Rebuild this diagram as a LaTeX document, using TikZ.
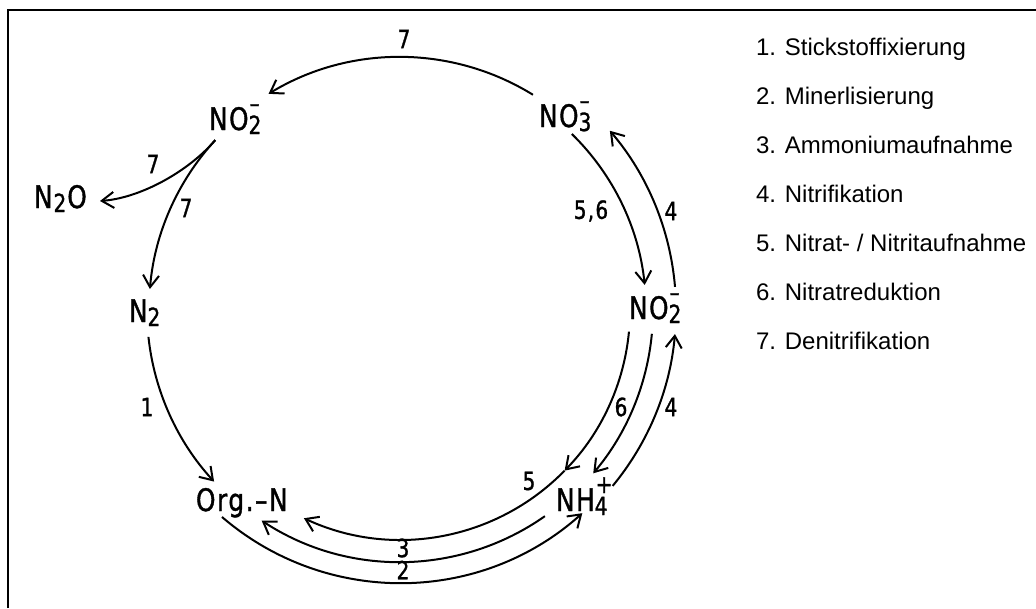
\documentclass[tikz,border=0pt]{standalone}
\usepackage{fontspec}
\setmainfont{Liberation Sans}
\usetikzlibrary{arrows.meta,calc}
\newfontfamily\labfont[FakeStretch=0.8,LetterSpace=5,FakeBold=1.2]{DejaVu Sans}
\newcommand{\chemfs}{\labfont\fontsize{31}{31}\selectfont}
\newcommand{\subfs}{\labfont\fontsize{25}{25}\selectfont}
\newcommand{\numfs}{\labfont\fontsize{25}{25}\selectfont}
\newcommand{\ionlab}[3]{#1{\subfs\makebox[0pt][l]{\raisebox{-4pt}{#2}}\makebox[0pt][l]{\kern1pt\raisebox{18pt}{#3}}\phantom{#2}}}
\begin{document}
\begin{tikzpicture}[x=1pt,y=-1pt,line width=2pt,
  flow/.style={-{Straight Barb[length=12pt,width=16pt]}},
  chem/.style={anchor=base west,inner sep=0pt,font=\chemfs},
  num/.style={inner sep=0pt,font=\numfs},
  legend/.style={anchor=base west,inner sep=0pt,font=\fontsize{24}{24}\selectfont}]
\useasboundingbox (0,0) rectangle (1036,608);
\fill[white] (0,0) rectangle (1036,608);
\draw[line width=2pt] (8.3,608) -- (8.3,10) -- (1036,10);

% species
\node[chem] (no2l) at (208,130) {\ionlab{NO}{2}{–}};
\node[chem] (no3)  at (538,127) {\ionlab{NO}{3}{–}};
\node[chem] (no2r) at (628,319) {\ionlab{NO}{2}{–}};
\node[chem] (n2o)  at (33,208)  {N{\subfs\kern1pt\raisebox{-4pt}{2}\kern1pt}O};
\node[chem] (n2)   at (128,322) {N{\subfs\raisebox{-4pt}{2}}};
\node[chem] (orgn) at (195,511) {Org.–N};
\node[chem] (nh4)  at (555,511) {\ionlab{NH}{4}{+}};

% circle geometry
\coordinate (C) at (400,310);
\coordinate (s7top) at ($(C)+(-58.3:253)$);
\coordinate (s7n2)  at ($(C)+(-137.4:251)$);
\coordinate (s1)    at ($(C)+(173.9:253)$);
\coordinate (s56)   at ($(C)+(-45.7:246)$);
\coordinate (s4a)   at ($(C)+(-4.8:276)$);
\coordinate (s5)    at ($(C)+(5.4:230)$);
\coordinate (p5)    at ($(C)+(44.3:230)$);
\coordinate (s6)    at ($(C)+(5.4:253)$);
\coordinate (s4b)   at ($(C)+(39.6:276)$);
\coordinate (s3)    at ($(C)+(54.9:252)$);
\coordinate (s2)    at ($(C)+(130.7:273)$);
\coordinate (n2otip) at (100,201);

% connectors
\draw[flow] (s7top) arc[start angle=-58.3,end angle=-121.3,radius=253];
\draw[flow] (s7n2) arc[start angle=-137.4,end angle=-175.2,radius=251];
\draw[flow] (s7n2) .. controls (188,172) and (140,198) .. (n2otip);
\draw[flow] (s1) arc[start angle=173.9,end angle=137.3,radius=253];
\draw[flow] (s56) arc[start angle=-45.7,end angle=-5.85,radius=246];
\draw[flow] (s4a) arc[start angle=-4.8,end angle=-40.5,radius=276];
\draw[flow] (s5) arc[start angle=5.4,end angle=44.3,radius=230];
\draw[flow] (p5) arc[start angle=44.3,end angle=115,radius=229];
\draw[flow] (s6) arc[start angle=5.4,end angle=40.2,radius=253];
\draw[flow] (s4b) arc[start angle=39.6,end angle=5.0,radius=276];
\draw[flow] (s3) arc[start angle=54.9,end angle=123.3,radius=252];
\draw[flow] (s2) arc[start angle=130.7,end angle=48.1,radius=273];

% process numbers
\node[num] (l7a) at (404,39) {7};
\node[num] (l7b) at (153,164) {7};
\node[num] (l7c) at (186,208) {7};
\node[num] (l1)  at (147,407) {1};
\node[num] (l56) at (591,211) {5,6};
\node[num] (l4a) at (671,211) {4};
\node[num] (l6)  at (621,407) {6};
\node[num] (l4b) at (671,407) {4};
\node[num] (l5)  at (529,481) {5};
\node[num] (l3)  at (403,548) {3};
\node[num] (l2)  at (403,570) {2};

% legend
\node[legend] (k1) at (755,55)  {1. Stickstoffixierung};
\node[legend] (k2) at (755,104) {2. Minerlisierung};
\node[legend] (k3) at (755,153) {3. Ammoniumaufnahme};
\node[legend] (k4) at (755,202) {4. Nitrifikation};
\node[legend] (k5) at (755,251) {5. Nitrat- / Nitritaufnahme};
\node[legend] (k6) at (755,300) {6. Nitratreduktion};
\node[legend] (k7) at (755,349) {7. Denitrifikation};
\end{tikzpicture}
\end{document}
